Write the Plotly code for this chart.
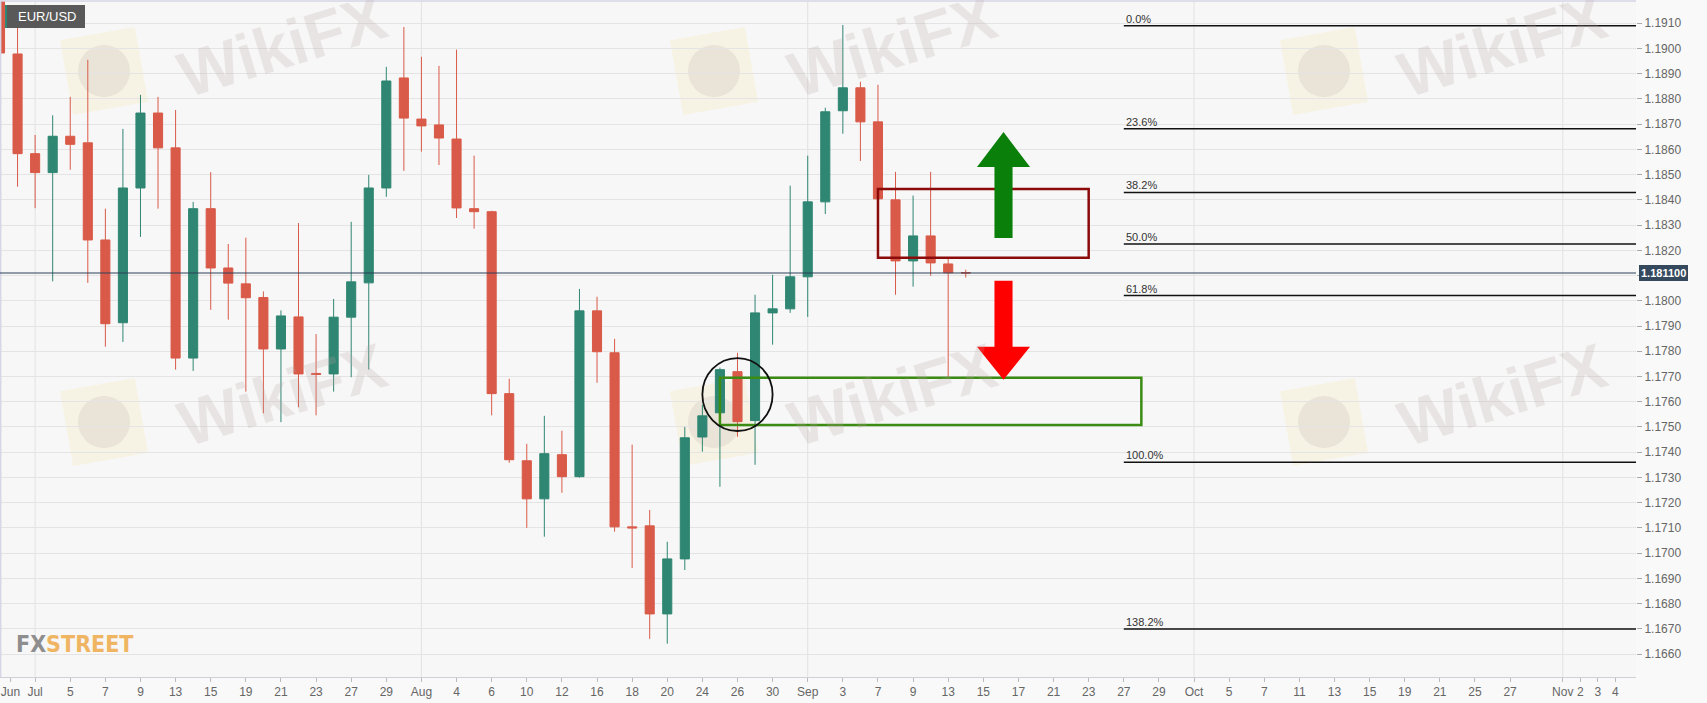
import numpy as np
import pandas as pd
import plotly.graph_objects as go

# ---------------- data ----------------
# FX trading calendar (weekdays), first visible day .. last axis label
calendar_start = "2021-06-29"
calendar_end = "2021-11-04"

# daily EUR/USD candles, 2021-06-29 .. 2021-09-14
opens = [1.19250, 1.18978, 1.18583, 1.18508, 1.18652, 1.18626, 1.18241, 1.17913, 1.18447, 1.18744,
         1.18606, 1.17773, 1.18365, 1.18130, 1.18067, 1.18013, 1.17809, 1.17936, 1.17712, 1.17710,
         1.17935, 1.18071, 1.18447, 1.18883, 1.18720, 1.18697, 1.18641, 1.18365, 1.18353, 1.17632,
         1.17366, 1.17215, 1.17390, 1.17303, 1.17960, 1.17794, 1.17104, 1.17108, 1.16759, 1.16977,
         1.17460, 1.17556, 1.17719, 1.17525, 1.17952, 1.17968, 1.18095, 1.18392, 1.18753, 1.18844,
         1.18709, 1.18400, 1.18158, 1.18257, 1.18146, 1.18112]
highs = [1.19300, 1.19083, 1.18657, 1.18735, 1.18808, 1.18955, 1.18365, 1.18681, 1.18816, 1.18808,
         1.18756, 1.18392, 1.18510, 1.18225, 1.18250, 1.18037, 1.17962, 1.18308, 1.17868, 1.18007,
         1.18313, 1.18499, 1.18927, 1.19085, 1.18967, 1.18931, 1.18995, 1.18575, 1.18357, 1.17691,
         1.17433, 1.17544, 1.17485, 1.18047, 1.18016, 1.17849, 1.17430, 1.17171, 1.17045, 1.17500,
         1.17588, 1.17735, 1.17794, 1.18024, 1.18103, 1.18456, 1.18575, 1.18765, 1.19093, 1.18868,
         1.18856, 1.18511, 1.18417, 1.18511, 1.18170, 1.18123]
lows = [1.18782, 1.18452, 1.18367, 1.18077, 1.18519, 1.18071, 1.17818, 1.17837, 1.18253, 1.18365,
        1.17727, 1.17722, 1.17964, 1.17925, 1.17640, 1.17554, 1.17519, 1.17578, 1.17546, 1.17640,
        1.17697, 1.17727, 1.18412, 1.18515, 1.18591, 1.18538, 1.18328, 1.18286, 1.17546, 1.17358,
        1.17100, 1.17065, 1.17239, 1.17299, 1.17675, 1.17085, 1.16941, 1.16660, 1.16641, 1.16933,
        1.17402, 1.17263, 1.17461, 1.17350, 1.17826, 1.17952, 1.17936, 1.18344, 1.18662, 1.18554,
        1.18400, 1.18024, 1.18056, 1.18099, 1.17697, 1.18092]
closes = [1.18982, 1.18583, 1.18508, 1.18652, 1.18620, 1.18241, 1.17909, 1.18447, 1.18744, 1.18606,
          1.17773, 1.18365, 1.18130, 1.18070, 1.18012, 1.17809, 1.17940, 1.17710, 1.17708, 1.17935,
          1.18075, 1.18447, 1.18871, 1.18724, 1.18693, 1.18645, 1.18368, 1.18353, 1.17632, 1.17370,
          1.17215, 1.17394, 1.17303, 1.17960, 1.17798, 1.17104, 1.17100, 1.16759, 1.16977, 1.17457,
          1.17544, 1.17727, 1.17521, 1.17952, 1.17968, 1.18095, 1.18392, 1.18749, 1.18844, 1.18709,
          1.18404, 1.18158, 1.18257, 1.18150, 1.18111, 1.18110]

# x-axis labels
tick_dates = ["2021-06-29", "2021-07-01", "2021-07-05", "2021-07-07", "2021-07-09", "2021-07-13",
              "2021-07-15", "2021-07-19", "2021-07-21", "2021-07-23", "2021-07-27", "2021-07-29",
              "2021-08-02", "2021-08-04", "2021-08-06", "2021-08-10", "2021-08-12", "2021-08-16",
              "2021-08-18", "2021-08-20", "2021-08-24", "2021-08-26", "2021-08-30", "2021-09-01",
              "2021-09-03", "2021-09-07", "2021-09-09", "2021-09-13", "2021-09-15", "2021-09-17",
              "2021-09-21", "2021-09-23", "2021-09-27", "2021-09-29", "2021-10-01", "2021-10-05",
              "2021-10-07", "2021-10-11", "2021-10-13", "2021-10-15", "2021-10-19", "2021-10-21",
              "2021-10-25", "2021-10-27", "2021-11-01", "2021-11-02", "2021-11-03", "2021-11-04"]
tick_text = ["Jun", "Jul", "5", "7", "9", "13", "15", "19", "21", "23", "27", "29",
             "Aug", "4", "6", "10", "12", "16", "18", "20", "24", "26", "30", "Sep",
             "3", "7", "9", "13", "15", "17", "21", "23", "27", "29", "Oct", "5",
             "7", "11", "13", "15", "19", "21", "25", "27", "Nov", "2", "3", "4"]
month_names = ["Jul", "Aug", "Sep", "Oct", "Nov"]

# Fibonacci retracement
fib_high = 1.1909
fib_low = 1.1736
fib_ratios = [0.0, 0.236, 0.382, 0.5, 0.618, 1.0, 1.382]
fib_start = "2021-09-27"

# highlighted zones
res_zone = {"start": "2021-09-07", "end": "2021-09-23", "top": 1.18443, "bottom": 1.18170}
sup_zone = {"start": "2021-08-25", "end": "2021-09-28", "top": 1.17695, "bottom": 1.17508}
circle_day = "2021-08-26"
circle_top, circle_bottom = 1.17773, 1.17484
arrow_day = "2021-09-16"
up_arrow = {"tip": 1.18669, "head": 1.18530, "tail": 1.18249}
down_arrow = {"tip": 1.17687, "head": 1.17818, "tail": 1.18079}

# ---------------- figure ----------------
W, H = 1707, 703
ML, MR, MT, MB = 0, 71, 1, 26
PW, PH = W - ML - MR, H - MT - MB

cal = pd.bdate_range(calendar_start, calendar_end)
pos = {d.strftime("%Y-%m-%d"): i for i, d in enumerate(cal)}
x = list(range(len(opens)))

RED = "#d95a48"
GREEN = "#2f8672"
FONT = "Liberation Sans, Arial, sans-serif"

fig = go.Figure()
fig.add_trace(go.Candlestick(
    x=x, open=opens, high=highs, low=lows, close=closes,
    increasing=dict(line=dict(color=GREEN, width=1), fillcolor=GREEN),
    decreasing=dict(line=dict(color=RED, width=1), fillcolor=RED),
    whiskerwidth=0, showlegend=False, hoverinfo="skip",
))

shapes = []
annotations = []

# month separators
for d, t in zip(tick_dates, tick_text):
    if t in month_names:
        shapes.append(dict(type="line", xref="x", yref="paper", x0=pos[d], x1=pos[d], y0=0, y1=1,
                           line=dict(color="#e2e2e2", width=1), layer="below"))

# plot border top/left
shapes.append(dict(type="line", xref="paper", yref="paper", x0=0, x1=1, y0=1, y1=1,
                   line=dict(color="#d6d6e6", width=1.5)))
shapes.append(dict(type="line", xref="paper", yref="paper", x0=0.0004, x1=0.0004, y0=0, y1=1,
                   line=dict(color="#d6d6e6", width=1.5)))

# watermarks (decoration)
def px2paper(px, py):
    return px / PW, 1 - (py - MT) / PH

for cx in [104, 714, 1324]:
    for cy in [71, 422]:
        ang = np.deg2rad(-10)
        half = 38
        pts = []
        for sx, sy in [(-1, -1), (1, -1), (1, 1), (-1, 1)]:
            dx, dy = sx * half, sy * half
            rx = dx * np.cos(ang) - dy * np.sin(ang)
            ry = dx * np.sin(ang) + dy * np.cos(ang)
            pts.append(px2paper(cx + rx, cy + ry))
        path = "M " + " L ".join(f"{p[0]:.5f},{p[1]:.5f}" for p in pts) + " Z"
        shapes.append(dict(type="path", xref="paper", yref="paper", path=path,
                           fillcolor="rgba(250,235,185,0.30)", line=dict(width=0), layer="below"))
        x0, y0 = px2paper(cx - 26, cy - 26)
        x1, y1 = px2paper(cx + 26, cy + 26)
        shapes.append(dict(type="circle", xref="paper", yref="paper", x0=x0, x1=x1, y0=y0, y1=y1,
                           fillcolor="rgba(160,148,148,0.16)", line=dict(width=0), layer="below"))
for cx in [282, 892, 1502]:
    for cy in [46, 395]:
        ax_, ay_ = px2paper(cx, cy)
        annotations.append(dict(xref="paper", yref="paper", x=ax_, y=ay_, text="<b>WikiFX</b>",
                                showarrow=False, textangle=-17, xanchor="center", yanchor="middle",
                                font=dict(family=FONT, size=64, color="rgba(185,165,165,0.22)")))

# Fibonacci levels
for r in fib_ratios:
    lvl = fib_high - r * (fib_high - fib_low)
    shapes.append(dict(type="line", xref="x", yref="y", x0=pos[fib_start], x1=93.2, y0=lvl, y1=lvl,
                       line=dict(color="#111111", width=1.3)))
    annotations.append(dict(xref="x", yref="y", x=pos[fib_start], y=lvl, text=f"{r*100:.1f}%",
                            showarrow=False, xanchor="left", yanchor="bottom", yshift=-1,
                            font=dict(family=FONT, size=11, color="#333333")))

# current price line + label
last = closes[-1]
shapes.append(dict(type="line", xref="paper", yref="y", x0=0, x1=1, y0=last, y1=last,
                   line=dict(color="#2c3e58", width=1)))
annotations.append(dict(xref="paper", yref="y", x=1, y=last, text=f"<b>{last:.6f}</b>",
                        showarrow=False, xanchor="left", yanchor="middle", xshift=3,
                        bgcolor="#34495e", bordercolor="#34495e", borderpad=1,
                        font=dict(family=FONT, size=11, color="white")))

# zones
shapes.append(dict(type="rect", xref="x", yref="y", x0=pos[res_zone["start"]], x1=pos[res_zone["end"]],
                   y0=res_zone["bottom"], y1=res_zone["top"], line=dict(color="#8b0a0a", width=2.5)))
shapes.append(dict(type="rect", xref="x", yref="y", x0=pos[sup_zone["start"]], x1=pos[sup_zone["end"]],
                   y0=sup_zone["bottom"], y1=sup_zone["top"], line=dict(color="#3c8c14", width=2.5)))
cd = pos[circle_day]
shapes.append(dict(type="circle", xref="x", yref="y", x0=cd - 2.0, x1=cd + 2.0,
                   y0=circle_bottom, y1=circle_top, line=dict(color="#111111", width=1.8)))

# arrows
ac = pos[arrow_day] + 0.15
hw, sw = 1.51, 0.515
def arrow_path(a):
    return (f"M {ac - sw},{a['tail']} L {ac - sw},{a['head']} L {ac - hw},{a['head']} "
            f"L {ac},{a['tip']} L {ac + hw},{a['head']} L {ac + sw},{a['head']} L {ac + sw},{a['tail']} Z")
shapes.append(dict(type="path", xref="x", yref="y", path=arrow_path(up_arrow),
                   fillcolor="#0a7f0a", line=dict(width=0)))
shapes.append(dict(type="path", xref="x", yref="y", path=arrow_path(down_arrow),
                   fillcolor="#ff0000", line=dict(width=0)))

# symbol label
shapes.append(dict(type="rect", xref="paper", yref="paper",
                   x0=5 / PW, x1=85 / PW, y0=1 - 27 / PH, y1=1 - 4 / PH,
                   fillcolor="#595959", line=dict(width=0)))
shapes.append(dict(type="rect", xref="paper", yref="paper",
                   x0=5 / PW, x1=7 / PW, y0=1 - 27 / PH, y1=1 - 4 / PH,
                   fillcolor="#2f8672", line=dict(width=0)))
annotations.append(dict(xref="paper", yref="paper", x=16 / PW, y=1 - 15.5 / PH, text="EUR/USD",
                        showarrow=False, xanchor="left", yanchor="middle",
                        font=dict(family=FONT, size=13, color="white")))

# FXSTREET logo
annotations.append(dict(xref="paper", yref="paper", x=14 / PW, y=1 - 643 / PH,
                        text="<b><span style='color:#8e8e8e'>FX</span><span style='color:#efb562'>STREET</span></b>",
                        showarrow=False, xanchor="left", yanchor="middle",
                        font=dict(family="Liberation Sans Narrow, DejaVu Sans Condensed, Liberation Sans", size=23)))

# tick positions (Jun label shifted into view)
tickvals = [pos[d] + (0.6 if t == "Jun" else 0) for d, t in zip(tick_dates, tick_text)]

fig.update_layout(
    width=W, height=H,
    margin=dict(l=ML, r=MR, t=MT, b=MB, autoexpand=False),
    paper_bgcolor="#f9f9f9", plot_bgcolor="#f7f7f7",
    boxgap=0.26,
    shapes=shapes, annotations=annotations,
    showlegend=False,
    xaxis=dict(range=[0, 93.17], tickvals=tickvals, ticktext=tick_text, showgrid=False,
               automargin=False, zeroline=False, showline=True, linecolor="#d0d0d8",
               ticks="outside", ticklen=4, tickcolor="#bbbbbb", rangeslider=dict(visible=False),
               tickfont=dict(family=FONT, size=12, color="#666666")),
    yaxis=dict(range=[1.16509, 1.19188], side="right", dtick=0.001, tick0=1.166, tickformat=".4f",
               automargin=False, showgrid=True, gridcolor="#e4e4e4", gridwidth=1, zeroline=False,
               ticks="outside", ticklen=5, tickcolor="#aaaaaa", showline=False,
               tickfont=dict(family=FONT, size=12, color="#666666")),
)

fig.write_html("out.html", config={"displayModeBar": False},
               post_script="document.body.style.margin='0';document.body.style.background='#f9f9f9';")
